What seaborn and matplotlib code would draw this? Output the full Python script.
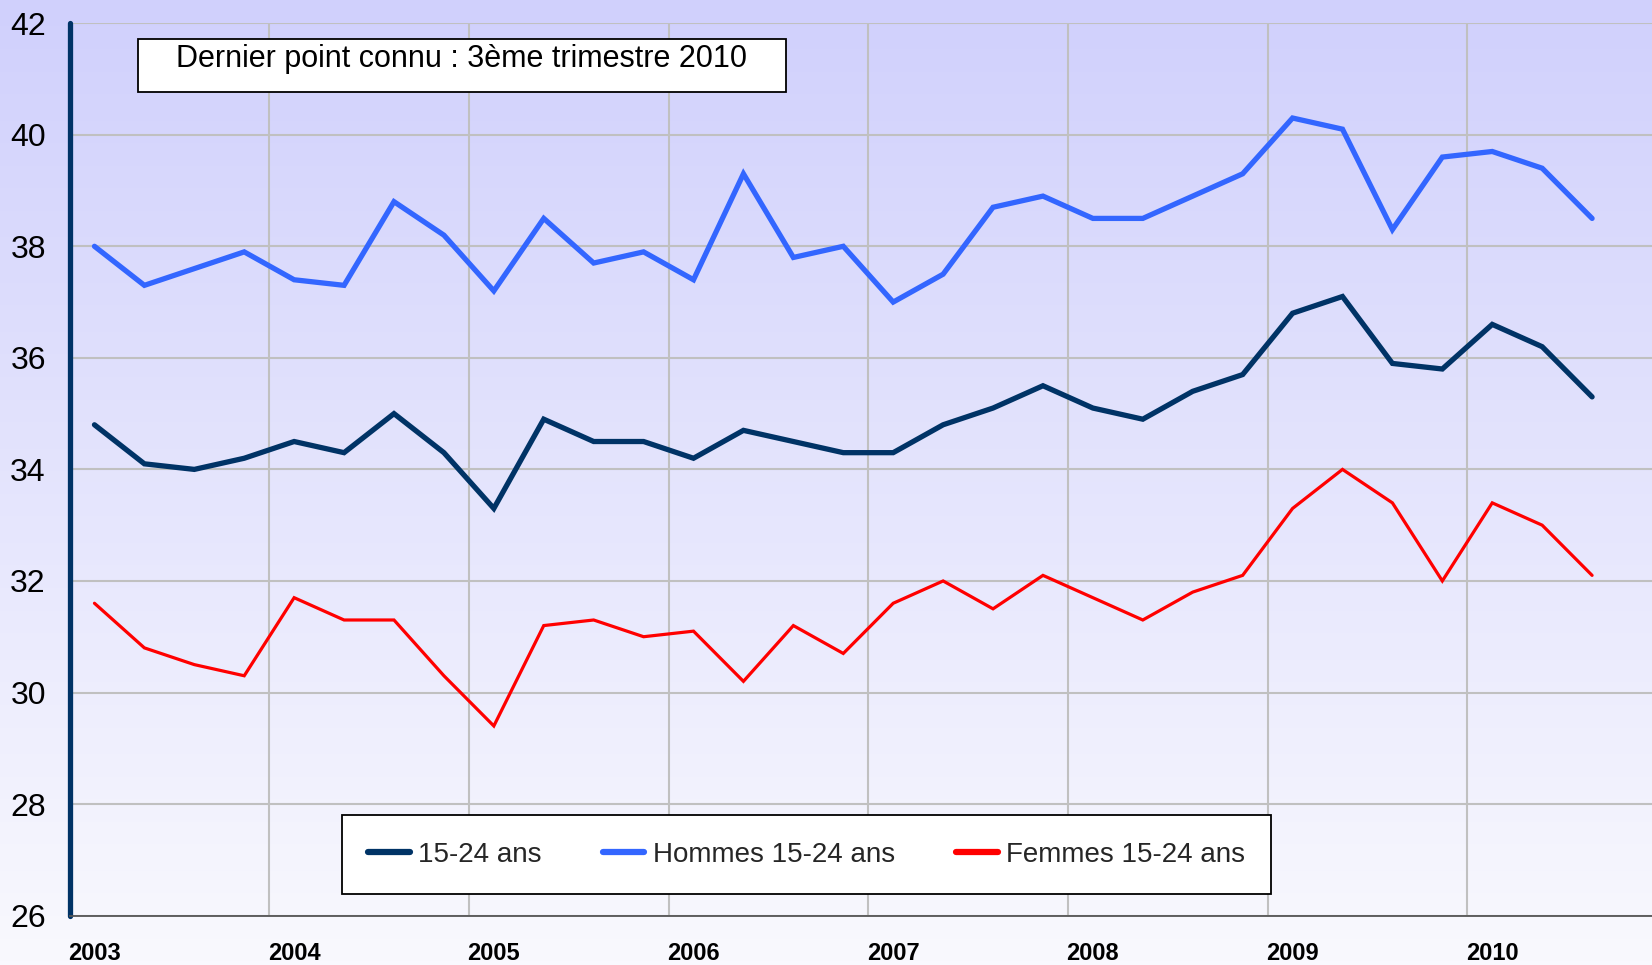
import numpy as np
import pandas as pd
import matplotlib
matplotlib.use("Agg")
import matplotlib.pyplot as plt
from matplotlib.patches import Rectangle
from matplotlib.ticker import FixedLocator
import seaborn as sns

# quarterly values, 2003 Q1 -> 2010 Q3
quarters = [f"{y}T{q}" for y in range(2003, 2011) for q in range(1, 5)][:31]
total_15_24 = [34.8, 34.1, 34.0, 34.2, 34.5, 34.3, 35.0, 34.3, 33.3, 34.9, 34.5,
               34.5, 34.2, 34.7, 34.5, 34.3, 34.3, 34.8, 35.1, 35.5, 35.1, 34.9,
               35.4, 35.7, 36.8, 37.1, 35.9, 35.8, 36.6, 36.2, 35.3]
hommes_15_24 = [38.0, 37.3, 37.6, 37.9, 37.4, 37.3, 38.8, 38.2, 37.2, 38.5, 37.7,
                37.9, 37.4, 39.3, 37.8, 38.0, 37.0, 37.5, 38.7, 38.9, 38.5, 38.5,
                38.9, 39.3, 40.3, 40.1, 38.3, 39.6, 39.7, 39.4, 38.5]
femmes_15_24 = [31.6, 30.8, 30.5, 30.3, 31.7, 31.3, 31.3, 30.3, 29.4, 31.2, 31.3,
                31.0, 31.1, 30.2, 31.2, 30.7, 31.6, 32.0, 31.5, 32.1, 31.7, 31.3,
                31.8, 32.1, 33.3, 34.0, 33.4, 32.0, 33.4, 33.0, 32.1]
year_labels = [str(y) for y in range(2003, 2011)]
series_names = ["15-24 ans", "Hommes 15-24 ans", "Femmes 15-24 ans"]
colors = ["#003366", "#3366FF", "#FF0000"]
widths = [3.8, 3.8, 2.3]

sns.set_style("white")
plt.rcParams["font.family"] = ["Liberation Sans", "DejaVu Sans"]

W, H = 1652, 965
fig = plt.figure(figsize=(W / 100, H / 100), dpi=100)

# gradient background over the whole figure
bg = fig.add_axes([0, 0, 1, 1], zorder=-5)
top = np.array([208, 208, 252]) / 255
bot = np.array([249, 249, 254]) / 255
t = np.linspace(0, 1, 256)[:, None]
grad = (top[None, :] * (1 - t) + bot[None, :] * t)[:, None, :]
bg.imshow(grad, aspect="auto", extent=[0, 1, 0, 1])
bg.axis("off")

ax = fig.add_axes([69.5 / W, 1 - 915.6 / H, 1 - 69.5 / W, (915.6 - 23.2) / H])
ax.set_facecolor("none")

df = pd.DataFrame({
    "idx": np.arange(len(quarters)),
    series_names[0]: total_15_24,
    series_names[1]: hommes_15_24,
    series_names[2]: femmes_15_24,
})
for name, c, lw in zip(series_names, colors, widths):
    sns.lineplot(data=df, x="idx", y=name, ax=ax, color=c, linewidth=lw,
                 label=name, solid_capstyle="round", solid_joinstyle="miter", zorder=3)

ax.set_xlim(-0.5, 31.2)
ax.set_ylim(26, 42)
ax.set_xlabel("")
ax.set_ylabel("")

ax.set_yticks(range(26, 43, 2))
ax.set_yticklabels([str(v) for v in range(26, 43, 2)], fontsize=23, color="black")
ax.tick_params(axis="y", direction="in", length=8, width=3.6, color="#003366", pad=17)

ax.set_xticks(range(0, 31, 4))
ax.set_xticklabels(year_labels, fontsize=17, fontweight="bold", color="black")
ax.xaxis.set_minor_locator(FixedLocator([-0.5 + 4 * k for k in range(1, 8)]))
ax.tick_params(axis="x", which="major", length=0, pad=19)
ax.tick_params(axis="x", which="minor", direction="in", length=6, width=1, color="black")

ax.grid(True, axis="y", color="#C0C0C0", linewidth=1.5)
ax.grid(True, axis="x", which="minor", color="#C0C0C0", linewidth=1.5)
ax.grid(False, axis="x", which="major")
ax.set_axisbelow(True)

for s in ["top", "right"]:
    ax.spines[s].set_visible(False)
ax.spines["left"].set_color("#003366")
ax.spines["left"].set_linewidth(3.8)
ax.spines["left"].set_capstyle("round")
ax.spines["bottom"].set_color("#555555")
ax.spines["bottom"].set_linewidth(1.3)

# note box
fig.patches.append(Rectangle((138 / W, 1 - 92 / H), 648 / W, 53 / H,
                             transform=fig.transFigure, facecolor="white",
                             edgecolor="black", linewidth=1.3, zorder=4))
fig.text(462 / W, 1 - 59 / H, "Dernier point connu : 3ème trimestre 2010",
         ha="center", va="center", fontsize=22, color="black", zorder=5)

leg = ax.legend(loc="center", bbox_to_anchor=((336 + 1277) / 2 / W, 1 - 854.5 / H),
                bbox_transform=fig.transFigure, ncol=3, frameon=True, fancybox=False,
                edgecolor="black", framealpha=1, fontsize=20, handlelength=1.5,
                handletextpad=0.3, columnspacing=2.2, borderpad=0.95)
leg.get_frame().set_linewidth(1.3)
for h in leg.get_lines():
    h.set_linewidth(4.5)
    h.set_solid_capstyle("round")

fig.savefig("out.png", dpi=100)
